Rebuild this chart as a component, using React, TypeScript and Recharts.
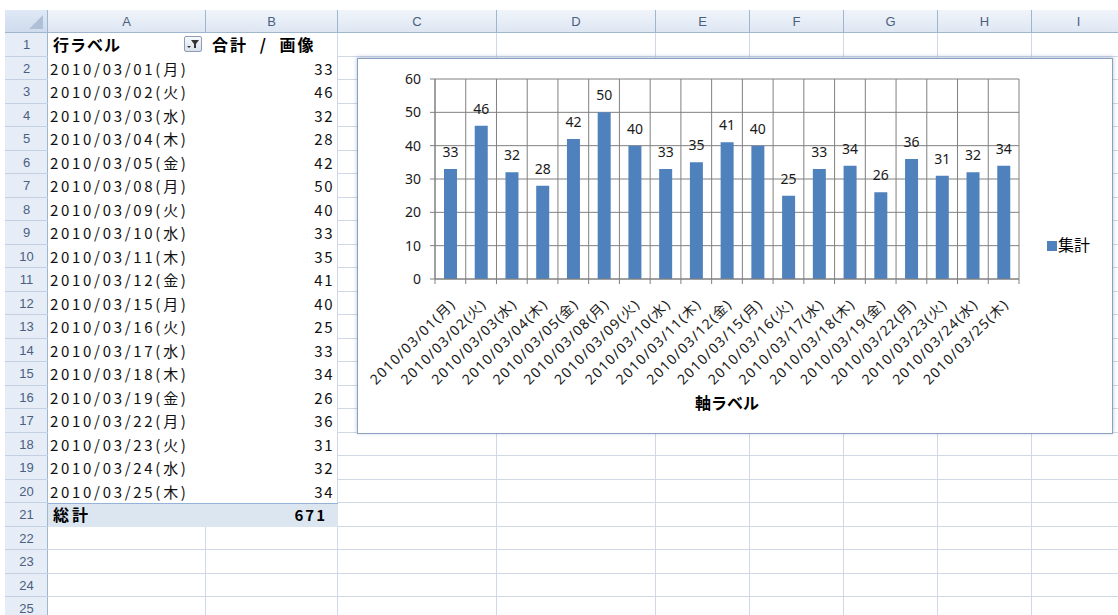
import React from 'react';
import { BarChart, Bar, XAxis, YAxis, CartesianGrid, LabelList } from 'recharts';

// ---- data ----
const dates = [
  '2010/03/01(月)', '2010/03/02(火)', '2010/03/03(水)', '2010/03/04(木)', '2010/03/05(金)',
  '2010/03/08(月)', '2010/03/09(火)', '2010/03/10(水)', '2010/03/11(木)', '2010/03/12(金)',
  '2010/03/15(月)', '2010/03/16(火)', '2010/03/17(水)', '2010/03/18(木)', '2010/03/19(金)',
  '2010/03/22(月)', '2010/03/23(火)', '2010/03/24(水)', '2010/03/25(木)',
];
const counts = [33, 46, 32, 28, 42, 50, 40, 33, 35, 41, 40, 25, 33, 34, 26, 36, 31, 32, 34];
const yTicks = [0, 10, 20, 30, 40, 50, 60];
const columnLetters = ['A', 'B', 'C', 'D', 'E', 'F', 'G', 'H', 'I'];
const rowNumbers = [1, 2, 3, 4, 5, 6, 7, 8, 9, 10, 11, 12, 13, 14, 15, 16, 17, 18, 19, 20, 21, 22, 23, 24, 25];
const seriesName = '集計';
const axisTitle = '軸ラベル';
const rowHeaderLabel = '行ラベル';
const valueHeaderLabel = '合計 / 画像';
const totalLabel = '総計';
const totalValue = 671;

const data = dates.map((d, i) => ({ date: d, value: counts[i] }));

// ---- sheet geometry ----
const COL_EDGES = [5, 48, 206, 338, 497, 656, 750, 844, 938, 1032, 1126];
const HEADER_TOP = 10;
const HEADER_BOTTOM = 33;
const ROW_H = 23.5;
const rowTop = (n: number) => HEADER_BOTTOM + ROW_H * (n - 1);

const HEADER_TEXT = '#4a5f80';
const GRID = '#d0d7e5';
const HEADER_LINE = '#9eb6ce';
const CELL_FONT = "'Noto Sans CJK JP', 'Noto Sans', sans-serif";
const CHART_FONT = "'Noto Sans', 'Noto Sans CJK JP', sans-serif";
const BAR_COLOR = '#4f81bd';
const AXIS_GRAY = '#808080';

// ---- chart geometry ----
const CH_LEFT = 357;
const CH_TOP = 58;
const CH_W = 756;
const CH_H = 376;
const INNER_W = CH_W - 2;
const INNER_H = CH_H - 2;
const M_TOP = 20;
const M_RIGHT = 93;
const Y_W = 77;
const X_H = 154;
const PLOT_W = INNER_W - Y_W - M_RIGHT;

const XTick = (props: any) => {
  const { x, y, payload, index } = props;
  const bw = PLOT_W / dates.length;
  const ax = x + 6;
  const ay = y + 26;
  return (
    <g>
      <line x1={x - bw / 2} y1={y} x2={x - bw / 2} y2={y + 5} stroke={AXIS_GRAY} />
      {index === dates.length - 1 && (
        <line x1={x + bw / 2} y1={y} x2={x + bw / 2} y2={y + 5} stroke={AXIS_GRAY} />
      )}
      <text
        x={ax}
        y={ay}
        transform={`rotate(-45, ${ax}, ${ay})`}
        textAnchor="end"
        fontSize={14}
        letterSpacing={1.3}
        fill="#1a1a1a"
        fontFamily={CHART_FONT}
      >
        {payload.value}
      </text>
    </g>
  );
};

export default function App() {
  return (
    <div
      style={{
        position: 'fixed', left: 0, top: 0, width: 1118, height: 615, background: '#fff',
        overflow: 'hidden', fontFamily: CELL_FONT,
      }}
    >
      {/* column header band */}
      <div
        style={{
          position: 'absolute', left: 5, top: HEADER_TOP, width: 1118, height: HEADER_BOTTOM - HEADER_TOP,
          background: 'linear-gradient(#f1f5fb, #dde6f2)', borderBottom: `1px solid ${HEADER_LINE}`,
          boxSizing: 'border-box',
        }}
      />
      {/* corner */}
      <div
        style={{
          position: 'absolute', left: 5, top: HEADER_TOP, width: 43, height: HEADER_BOTTOM - HEADER_TOP,
          background: 'linear-gradient(#dfe8f5, #cfdcee)', borderRight: `1px solid ${HEADER_LINE}`,
          borderBottom: `1px solid ${HEADER_LINE}`, boxSizing: 'border-box',
        }}
      >
        <svg width={43} height={23} style={{ position: 'absolute', left: 0, top: 0 }}>
          <polygon points="38,5 38,19 24,19" fill="#aebfd6" />
        </svg>
      </div>
      {/* column letters and header separators */}
      {columnLetters.map((c, i) => (
        <div
          key={c}
          style={{
            position: 'absolute', left: COL_EDGES[i + 1], top: HEADER_TOP,
            width: COL_EDGES[i + 2] - COL_EDGES[i + 1], height: HEADER_BOTTOM - HEADER_TOP,
            borderRight: `1px solid ${HEADER_LINE}`, boxSizing: 'border-box',
            textAlign: 'center', lineHeight: `${HEADER_BOTTOM - HEADER_TOP}px`, fontSize: 13,
            color: HEADER_TEXT, fontFamily: "'Liberation Sans', Arial, sans-serif",
          }}
        >
          {c}
        </div>
      ))}
      {/* row header column */}
      <div
        style={{
          position: 'absolute', left: 5, top: HEADER_BOTTOM, width: 43, height: 615 - HEADER_BOTTOM,
          background: '#e6edf7', borderRight: `1px solid ${HEADER_LINE}`, boxSizing: 'border-box',
        }}
      />
      {rowNumbers.map((n) => (
        <div
          key={n}
          style={{
            position: 'absolute', left: 5, top: rowTop(n), width: 43, height: ROW_H,
            borderBottom: '1px solid #c3d0e3', boxSizing: 'border-box', textAlign: 'center',
            lineHeight: `${ROW_H}px`, fontSize: 13, color: HEADER_TEXT,
            fontFamily: "'Liberation Sans', Arial, sans-serif",
          }}
        >
          {n}
        </div>
      ))}
      {/* horizontal gridlines */}
      {rowNumbers.map((n) => (
        <div
          key={`h${n}`}
          style={{
            position: 'absolute', left: n >= 21 ? 48 : COL_EDGES[3], top: rowTop(n + 1) - 1,
            width: 1118, height: 1, background: GRID,
          }}
        />
      ))}
      {/* vertical gridlines */}
      {COL_EDGES.slice(2).map((x, i) => (
        <div
          key={`v${x}`}
          style={{
            position: 'absolute', left: x - 1, top: i === 0 ? rowTop(22) : HEADER_BOTTOM,
            width: 1, height: 615, background: GRID,
          }}
        />
      ))}
      {/* pivot header row */}
      <div
        style={{
          position: 'absolute', left: 53, top: rowTop(1), height: ROW_H, lineHeight: `${ROW_H}px`,
          fontSize: 16, fontWeight: 700, letterSpacing: 1, color: '#000',
        }}
      >
        {rowHeaderLabel}
      </div>
      <div
        style={{
          position: 'absolute', left: 184, top: rowTop(1) + 3, width: 18, height: 16,
          border: '1px solid #8d9db5', borderRadius: 2, boxSizing: 'border-box',
          background: 'linear-gradient(#f7f9fc, #d8e0eb)',
        }}
      >
        <svg width={16} height={14} style={{ position: 'absolute', left: 0, top: 0 }}>
          <polygon points="6,3 14,3 11,7 11,11 9,11 9,7" fill="#333" />
          <polygon points="2,9 6,9 4,11" fill="#333" />
        </svg>
      </div>
      <div
        style={{
          position: 'absolute', left: 212, top: rowTop(1), height: ROW_H, lineHeight: `${ROW_H}px`,
          fontSize: 16, fontWeight: 700, letterSpacing: 2, wordSpacing: 6, color: '#000', whiteSpace: 'pre',
        }}
      >
        {valueHeaderLabel}
      </div>
      {/* pivot body */}
      {dates.map((d, i) => (
        <React.Fragment key={d}>
          <div
            style={{
              position: 'absolute', left: 50, top: rowTop(i + 2), height: ROW_H, lineHeight: `${ROW_H}px`,
              fontSize: 15, letterSpacing: 2.7, color: '#111', whiteSpace: 'pre',
            }}
          >
            {d}
          </div>
          <div
            style={{
              position: 'absolute', left: 206, top: rowTop(i + 2), width: 128, height: ROW_H,
              lineHeight: `${ROW_H}px`, fontSize: 15, letterSpacing: 1.5, color: '#111', textAlign: 'right',
            }}
          >
            {counts[i]}
          </div>
        </React.Fragment>
      ))}
      {/* total row */}
      <div
        style={{
          position: 'absolute', left: 48, top: rowTop(21), width: 290, height: ROW_H,
          background: '#dce6f1', borderTop: '1px solid #95b3d7', boxSizing: 'border-box',
        }}
      />
      <div
        style={{
          position: 'absolute', left: 53, top: rowTop(21), height: ROW_H, lineHeight: `${ROW_H}px`,
          fontSize: 16, fontWeight: 700, letterSpacing: 3, color: '#000',
        }}
      >
        {totalLabel}
      </div>
      <div
        style={{
          position: 'absolute', left: 206, top: rowTop(21), width: 121, height: ROW_H,
          lineHeight: `${ROW_H}px`, fontSize: 15, fontWeight: 700, letterSpacing: 2,
          color: '#000', textAlign: 'right',
        }}
      >
        {totalValue}
      </div>

      {/* chart */}
      <div
        style={{
          position: 'absolute', left: CH_LEFT, top: CH_TOP, width: CH_W, height: CH_H,
          background: '#fff', border: '1px solid #8aa1c2', boxSizing: 'border-box',
          boxShadow: '0 -1px 4px rgba(90,120,170,0.45)',
        }}
      >
        <BarChart
          width={INNER_W}
          height={INNER_H}
          data={data}
          margin={{ top: M_TOP, right: M_RIGHT, bottom: 0, left: 0 }}
        >
          <CartesianGrid
            stroke={AXIS_GRAY}
            verticalCoordinatesGenerator={(p: any) => {
              const off = p.offset;
              const n = dates.length;
              return Array.from({ length: n + 1 }, (_, i) => off.left + (off.width * i) / n);
            }}
          />
          <XAxis
            dataKey="date"
            interval={0}
            height={X_H}
            tickLine={false}
            tickSize={0}
            tickMargin={0}
            axisLine={{ stroke: AXIS_GRAY }}
            tick={XTick}
            label={{
              value: axisTitle, position: 'insideBottom', offset: 24, fontSize: 16, fontWeight: 700,
              fill: '#000', fontFamily: CELL_FONT,
            }}
          />
          <YAxis
            width={Y_W}
            domain={[0, 60]}
            ticks={yTicks}
            interval={0}
            tickSize={5}
            tickMargin={9}
            axisLine={{ stroke: AXIS_GRAY }}
            tickLine={{ stroke: AXIS_GRAY }}
            tick={{ fontSize: 14, fill: '#1a1a1a', fontFamily: CHART_FONT }}
          />
          <Bar dataKey="value" name={seriesName} fill={BAR_COLOR} barSize={13} isAnimationActive={false}>
            <LabelList
              dataKey="value"
              position="top"
              offset={12}
              fontSize={14}
              fill="#1a1a1a"
              fontFamily={CHART_FONT}
            />
          </Bar>
        </BarChart>
        {/* legend */}
        <div
          style={{
            position: 'absolute', left: 689, top: 175, display: 'flex', alignItems: 'center',
            fontFamily: CELL_FONT, fontSize: 16, color: '#000', lineHeight: '20px',
          }}
        >
          <span style={{ display: 'inline-block', width: 10, height: 10, background: BAR_COLOR, marginRight: 1, marginTop: 4 }} />
          <span>{seriesName}</span>
        </div>
      </div>
    </div>
  );
}
